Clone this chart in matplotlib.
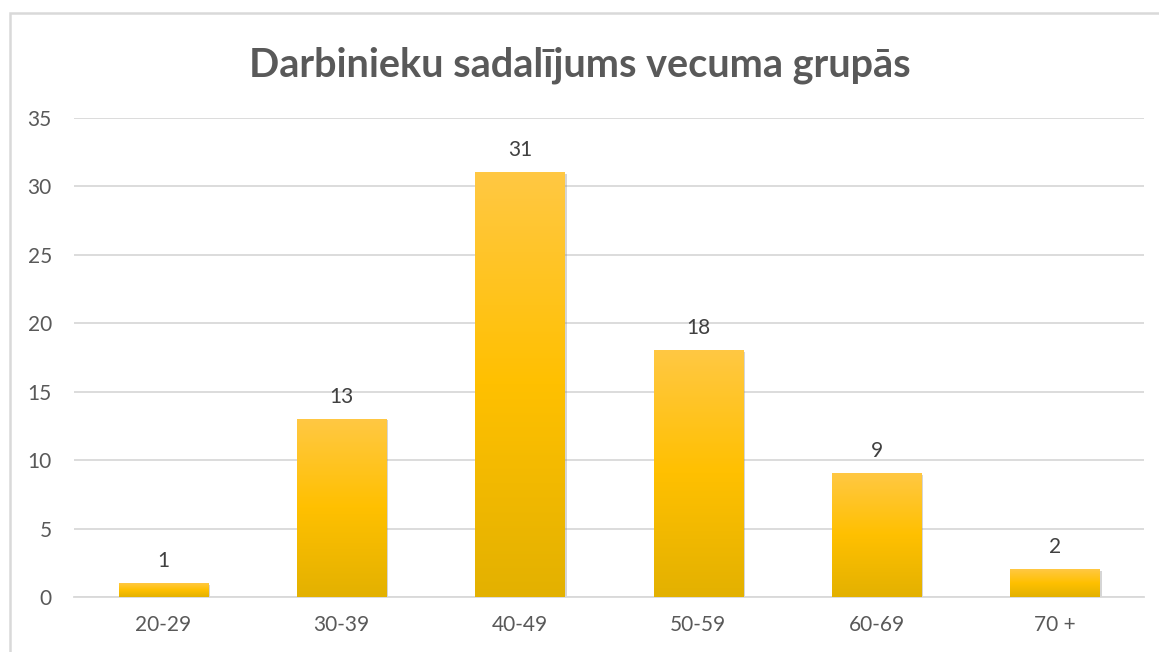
import numpy as np
import matplotlib.pyplot as plt
import matplotlib.patheffects as pe
from matplotlib.colors import LinearSegmentedColormap
from matplotlib.patches import Rectangle

categories = ["20-29", "30-39", "40-49", "50-59", "60-69", "70 +"]
values = [1, 13, 31, 18, 9, 2]
title = "Darbinieku sadalījums vecuma grupās"

plt.rcParams['font.family'] = ['Lato', 'DejaVu Sans']
text_color = "#595959"
grid_color = "#D9D9D9"

# gold gradient, light on top, darker at bottom
gold = LinearSegmentedColormap.from_list("gold", ["#E3B100", "#FFC000", "#FFC843"])

fig = plt.figure(figsize=(11.59, 6.52), dpi=100)
ax = fig.add_axes([74 / 1159, 1 - 597 / 652, (1144 - 74) / 1159, (597 - 118) / 652])

# chart frame (only top and left edges show in the crop)
fig.patches.append(Rectangle((10 / 1159, -0.1), 1.2, 1 - 13 / 652 + 0.1,
                             transform=fig.transFigure, fill=False,
                             edgecolor="#D9D9D9", linewidth=1.8, zorder=0))

x = np.arange(len(categories))
bars = ax.bar(x, values, width=0.5, color="#FFC000", zorder=2,
              path_effects=[pe.SimplePatchShadow(offset=(1.5, -1), shadow_rgbFace="#888888", alpha=0.35),
                            pe.Normal()])

grad = np.linspace(0, 1, 256).reshape(-1, 1)
for b in bars:
    x0, w, h = b.get_x(), b.get_width(), b.get_height()
    ax.imshow(grad, cmap=gold, origin="lower", aspect="auto",
              extent=(x0, x0 + w, 0, h), zorder=3)

for xi, v in zip(x, values):
    ax.annotate(str(v), (xi, v), xytext=(0, 9), textcoords="offset points",
                ha="center", va="bottom", fontsize=15, color="#404040")

ax.set_xlim(-0.5, len(categories) - 0.5)
ax.set_ylim(0, 35)
ax.set_yticks(range(0, 36, 5))
ax.set_xticks(x)
ax.set_xticklabels(categories)
ax.tick_params(axis="both", length=0, labelsize=15, labelcolor=text_color)
ax.tick_params(axis="x", pad=13)
ax.tick_params(axis="y", pad=16)
ax.grid(axis="y", color=grid_color, linewidth=1.3, zorder=0)
ax.set_axisbelow(True)
for s in ["top", "right", "left"]:
    ax.spines[s].set_visible(False)
ax.spines["bottom"].set_color(grid_color)
ax.spines["bottom"].set_linewidth(1.3)

fig.text(0.5, 1 - 65 / 652, title, ha="center", va="center",
         fontsize=28.5, fontweight="bold", color=text_color)

fig.savefig("out.png", dpi=100)
